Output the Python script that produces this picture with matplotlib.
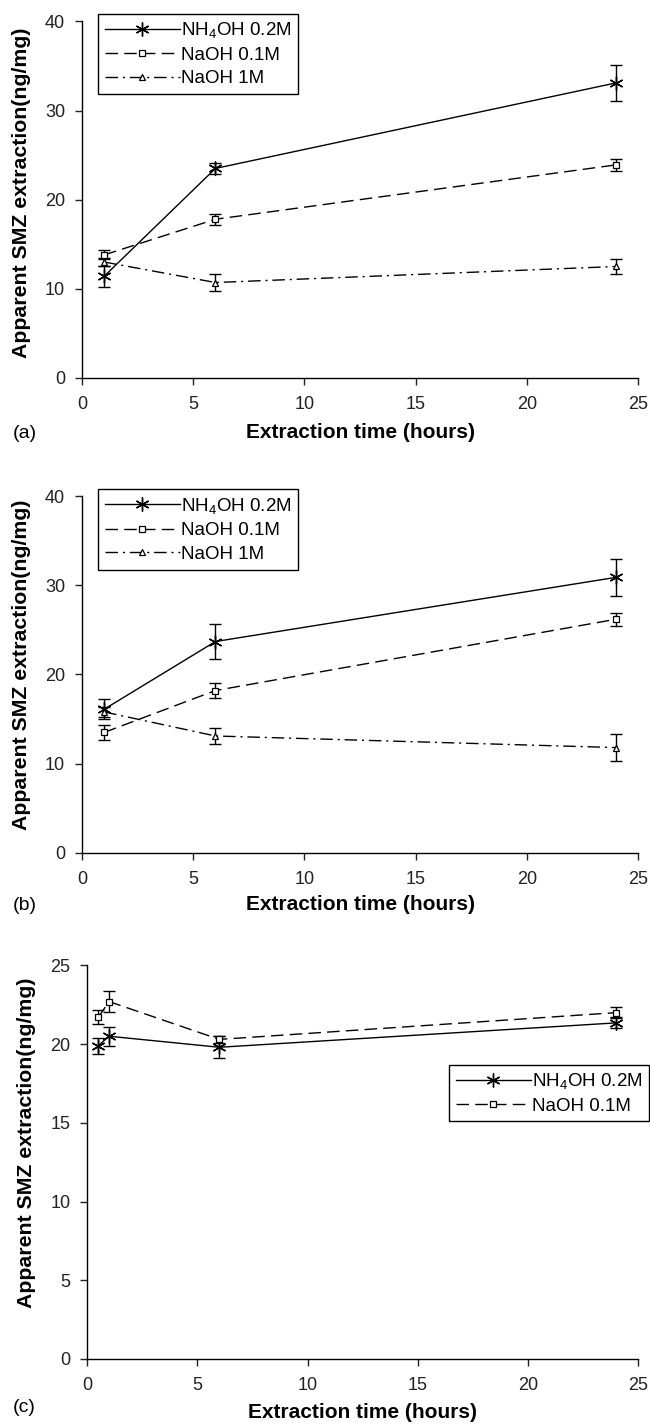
import numpy as np
import matplotlib
matplotlib.use('Agg')
import matplotlib.pyplot as plt

plt.rcParams['font.family'] = ['Liberation Sans', 'DejaVu Sans']
plt.rcParams['mathtext.default'] = 'regular'

# extraction times (hours)
time_ab = [1, 6, 24]
time_c = [0.5, 1, 6, 24]

labels = ['NH$_4$OH 0.2M', 'NaOH 0.1M', 'NaOH 1M']

# panel (a)
a_nh4oh = [11.4, 23.5, 33.1]
a_nh4oh_err = [1.2, 0.6, 2.0]
a_naoh01 = [13.8, 17.8, 23.9]
a_naoh01_err = [0.5, 0.6, 0.7]
a_naoh1 = [13.0, 10.7, 12.5]
a_naoh1_err = [0.5, 1.0, 0.8]

# panel (b)
b_nh4oh = [16.1, 23.7, 30.9]
b_nh4oh_err = [1.1, 2.0, 2.05]
b_naoh01 = [13.5, 18.2, 26.2]
b_naoh01_err = [0.85, 0.85, 0.75]
b_naoh1 = [15.8, 13.1, 11.8]
b_naoh1_err = [0.6, 0.9, 1.5]

# panel (c)
c_nh4oh = [19.9, 20.5, 19.8, 21.35]
c_nh4oh_err = [0.5, 0.6, 0.7, 0.35]
c_naoh01 = [21.7, 22.7, 20.3, 22.0]
c_naoh01_err = [0.45, 0.65, 0.2, 0.35]

# styles per series
styles = [
    dict(marker=(6, 2, 0), ms=10, mew=1.0, dashes=()),
    dict(marker='s', ms=4, mew=0.9, dashes=(9, 4.5)),
    dict(marker='^', ms=5, mew=0.9, dashes=(9, 3.5, 1.5, 3.5)),
]


def panel(ax, t, series, errs, ymax, ystep, leg_xy, panel_lab, lab_y,
          ylab_y, panel_px):
    handles = []
    for i, (y, e) in enumerate(zip(series, errs)):
        st = styles[i]
        ax.errorbar(t, y, yerr=e, fmt='none', ecolor='black', elinewidth=1.0,
                    capsize=4.3, capthick=1.0, zorder=2)
        if st['dashes']:
            ln, = ax.plot(t, y, color='black', lw=1.0, dashes=st['dashes'],
                          marker=st['marker'], ms=st['ms'], mew=st['mew'],
                          mfc='white', mec='black', zorder=3, label=labels[i])
        else:
            ln, = ax.plot(t, y, color='black', lw=1.0, ls='-',
                          marker=st['marker'], ms=st['ms'], mew=st['mew'],
                          mfc='white', mec='black', zorder=3, label=labels[i])
        handles.append(ln)
    ax.set_xlim(0, 25)
    ax.set_ylim(0, ymax)
    ax.set_xticks(np.arange(0, 26, 5))
    ax.set_yticks(np.arange(0, ymax + 1, ystep))
    for s in ['top', 'right']:
        ax.spines[s].set_visible(False)
    for s in ['left', 'bottom']:
        ax.spines[s].set_linewidth(1.0)
    ax.tick_params(direction='out', length=5, width=1.0, labelsize=13,
                   colors='#222222')
    ax.tick_params(axis='x', pad=8)
    ax.tick_params(axis='y', pad=7)
    ax.set_xlabel('Extraction time (hours)', fontsize=15, fontweight='bold')
    ax.set_ylabel('Apparent SMZ extraction(ng/mg)', fontsize=15.3,
                  fontweight='bold')
    ax.xaxis.set_label_coords(0.5, lab_y)
    ax.yaxis.set_label_coords(-0.092, ylab_y)
    leg = ax.legend(handles=handles, loc='upper left', bbox_to_anchor=leg_xy,
                    borderaxespad=0, fontsize=13.5, handlelength=4,
                    handletextpad=0.05, labelspacing=0.35, borderpad=0.35,
                    fancybox=False, framealpha=1, edgecolor='black')
    leg.get_frame().set_linewidth(1.0)
    fig.text(13 / 650, 1 - panel_px / 1426, panel_lab, fontsize=14,
             va='center', ha='left')


fig = plt.figure(figsize=(6.5, 14.26), dpi=100)

ax_a = fig.add_axes([0.126, 0.735, 0.856, 0.250])
panel(ax_a, time_ab, [a_nh4oh, a_naoh01, a_naoh1],
      [a_nh4oh_err, a_naoh01_err, a_naoh1_err], 40, 10, (0.029, 1.022),
      '(a)', -0.126, 0.518, 433)

ax_b = fig.add_axes([0.126, 0.402, 0.856, 0.250])
panel(ax_b, time_ab, [b_nh4oh, b_naoh01, b_naoh1],
      [b_nh4oh_err, b_naoh01_err, b_naoh1_err], 40, 10, (0.029, 1.02),
      '(b)', -0.118, 0.527, 905)

ax_c = fig.add_axes([0.134, 0.047, 0.848, 0.276])
panel(ax_c, time_c, [c_nh4oh, c_naoh01],
      [c_nh4oh_err, c_naoh01_err], 25, 5, (0.657, 0.748),
      '(c)', -0.112, 0.55, 1408)

fig.savefig('out.png', dpi=100)
